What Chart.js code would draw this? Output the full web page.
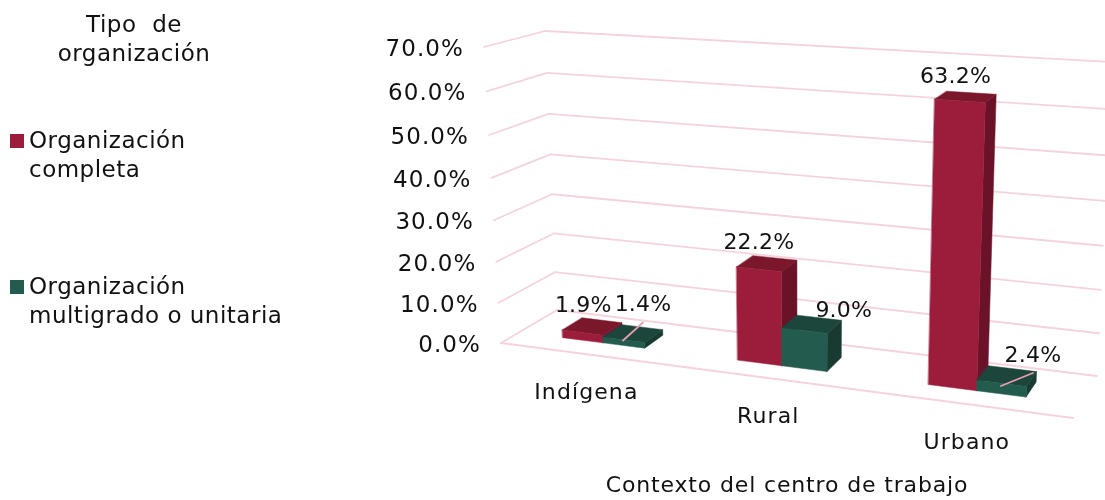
<!DOCTYPE html>
<html lang="es"><head><meta charset="utf-8">
<style>html,body{margin:0;padding:0;background:#fff}canvas{display:block}</style>
<script src="https://cdn.jsdelivr.net/npm/chart.js@4"></script>
</head><body><canvas id="c" width="1105" height="500"></canvas>
<script>
const categories = ['Indígena', 'Rural', 'Urbano'];
const seriesNames = ['Organización completa', 'Organización multigrado o unitaria'];
const completa = [1.9, 22.2, 63.2];
const multigrado = [1.4, 9.0, 2.4];
const FONT = '"DejaVu Sans"';
const INK = '#111111';
const GRID = '#f5d3db';
const LEADER = '#e79db2';
const shades = [
  {front:'#9b1d3b', top:'#7a172b', side:'#6a1328'},
  {front:'#235b4e', top:'#1c463b', side:'#183a31'}
];
// 3D box of the plot: [u,v,d] corners in the page
const C = {
  F0L:[501,343], F0R:[1073,418], B0L:[557,310], B0R:[1097,376],
  F1L:[484,47],  F1R:[1089,83],  B1L:[545,31],  B1R:[1111,62]
};
const lerp=(a,b,t)=>[a[0]+(b[0]-a[0])*t,a[1]+(b[1]-a[1])*t];
const warp=(t,c)=>t/(c+(1-c)*t);
function project(u,v,d){
  const uu=warp(u,1.14), vv=warp(v,1.058);
  const f=lerp(lerp(C.F0L,C.F0R,uu),lerp(C.F1L,C.F1R,uu),vv);
  const b=lerp(lerp(C.B0L,C.B0R,uu),lerp(C.B1L,C.B1R,uu),vv);
  return lerp(f,b,d);
}
const D0=0.33,D1=0.70;
function poly(ctx,pts,fill){
  ctx.beginPath();pts.forEach((p,i)=>i?ctx.lineTo(p[0],p[1]):ctx.moveTo(p[0],p[1]));
  ctx.closePath();ctx.fillStyle=fill;ctx.fill();
  ctx.strokeStyle=fill;ctx.lineWidth=0.5;ctx.stroke();
}
function seg(ctx,a,b,color,w){
  ctx.beginPath();ctx.moveTo(a[0],a[1]);ctx.lineTo(b[0],b[1]);
  ctx.strokeStyle=color;ctx.lineWidth=w;ctx.stroke();
}
function text(ctx,s,x,y,size,align,spacing){
  ctx.font=size+'px '+FONT;ctx.textAlign=align||'left';ctx.textBaseline='middle';
  ctx.letterSpacing=(spacing||0)+'px';ctx.fillStyle=INK;ctx.fillText(s,x,y);ctx.letterSpacing='0px';
}
// label offset from the centre of the bar top, [dx,dy], and leader flag
const labelOffsets=[
  [[-9,-20,false],[-8,-20,false],[-10,-20,false]],
  [[10,-28,true],[32,-13,false],[26,-20,true]]
];
const box3d={
  id:'box3d',
  beforeDatasetsDraw(chart){
    const ctx=chart.ctx,a=chart.chartArea,ys=chart.scales.y,xs=chart.scales.x;
    const U=px=>(px-a.left)/(a.right-a.left);
    const V=py=>(a.bottom-py)/(a.bottom-a.top);
    ctx.save();
    ctx.lineCap='round';
    // grid and wall
    ys.ticks.forEach(t=>{
      const v=V(ys.getPixelForValue(t.value));
      const p=project(0,v,0),q=project(0,v,1),r=project(1,v,1);
      seg(ctx,p,q,GRID,1.8);seg(ctx,q,r,GRID,1.8);
    });
    seg(ctx,project(0,0,0),project(1,0,0),GRID,1.8);
    // y labels
    ys.ticks.forEach(t=>{
      const p=project(0,V(ys.getPixelForValue(t.value)),0);
      text(ctx,t.label,p[0]-20,p[1]+3,23,'right',1.1);
    });
    // bars
    const tops=[];
    categories.forEach((cat,i)=>{
      chart.data.datasets.forEach((ds,k)=>{
        const el=chart.getDatasetMeta(k).data[i];
        const u0=U(el.x-el.width/2),u1=U(el.x+el.width/2),v=V(el.y);
        const c=shades[k];
        const P=(u,vv,d)=>project(u,vv,d);
        poly(ctx,[P(u1,0,D0),P(u1,0,D1),P(u1,v,D1),P(u1,v,D0)],c.side);
        poly(ctx,[P(u0,v,D0),P(u1,v,D0),P(u1,v,D1),P(u0,v,D1)],c.top);
        poly(ctx,[P(u0,0,D0),P(u1,0,D0),P(u1,v,D0),P(u0,v,D0)],ds.backgroundColor);
        tops.push({k,i,c:P((u0+u1)/2,v,(D0+D1)/2),val:ds.data[i]});
      });
    });
    // data labels and leaders
    tops.forEach(t=>{
      const o=labelOffsets[t.k][t.i];
      const x=t.c[0]+o[0],y=t.c[1]+o[1];
      if(o[2]) seg(ctx,[t.c[0]-(t.i===2?6:10),t.c[1]+(t.i===2?10:7)],[x,y+17],LEADER,1.8);
      text(ctx,t.val.toFixed(1)+'%',x,y,22,'center',0.2);
    });
    // category labels
    categories.forEach((cat,i)=>{
      const u=U(xs.getPixelForValue(i));
      const p=project(u,0,0);
      text(ctx,cat,p[0],p[1]+39,22,'center',1.1);
    });
    // axis title
    text(ctx,'Contexto del centro de trabajo',787,486,22,'center',0.85);
    // legend
    text(ctx,'Tipo  de',134,26,23,'center',0.5);
    text(ctx,'organización',134,55,23,'center',0.5);
    const lines=[['Organización','completa'],['Organización','multigrado o unitaria']];
    [141,287].forEach((y,k)=>{
      ctx.fillStyle=chart.data.datasets[k].backgroundColor;ctx.fillRect(10,y-7,14,14);
      text(ctx,lines[k][0],29,y+1,23,'left',0.5);
      text(ctx,lines[k][1],29,y+30,23,'left',0.5);
    });
    ctx.restore();
    return false;
  }
};
new Chart(document.getElementById('c'),{
  type:'bar',
  data:{labels:categories,datasets:[
    {label:seriesNames[0],data:completa,backgroundColor:shades[0].front},
    {label:seriesNames[1],data:multigrado,backgroundColor:shades[1].front}
  ]},
  options:{
    responsive:false,animation:false,
    layout:{padding:{left:501,right:32,top:47,bottom:157}},
    categoryPercentage:0.48,barPercentage:1,
    plugins:{legend:{display:false},tooltip:{enabled:false},title:{display:false}},
    scales:{
      x:{display:false,offset:true,grid:{display:false}},
      y:{display:false,min:0,max:70,ticks:{stepSize:10,callback:v=>v.toFixed(1)+'%'},grid:{display:false}}
    }
  },
  plugins:[box3d]
});
</script></body></html>
